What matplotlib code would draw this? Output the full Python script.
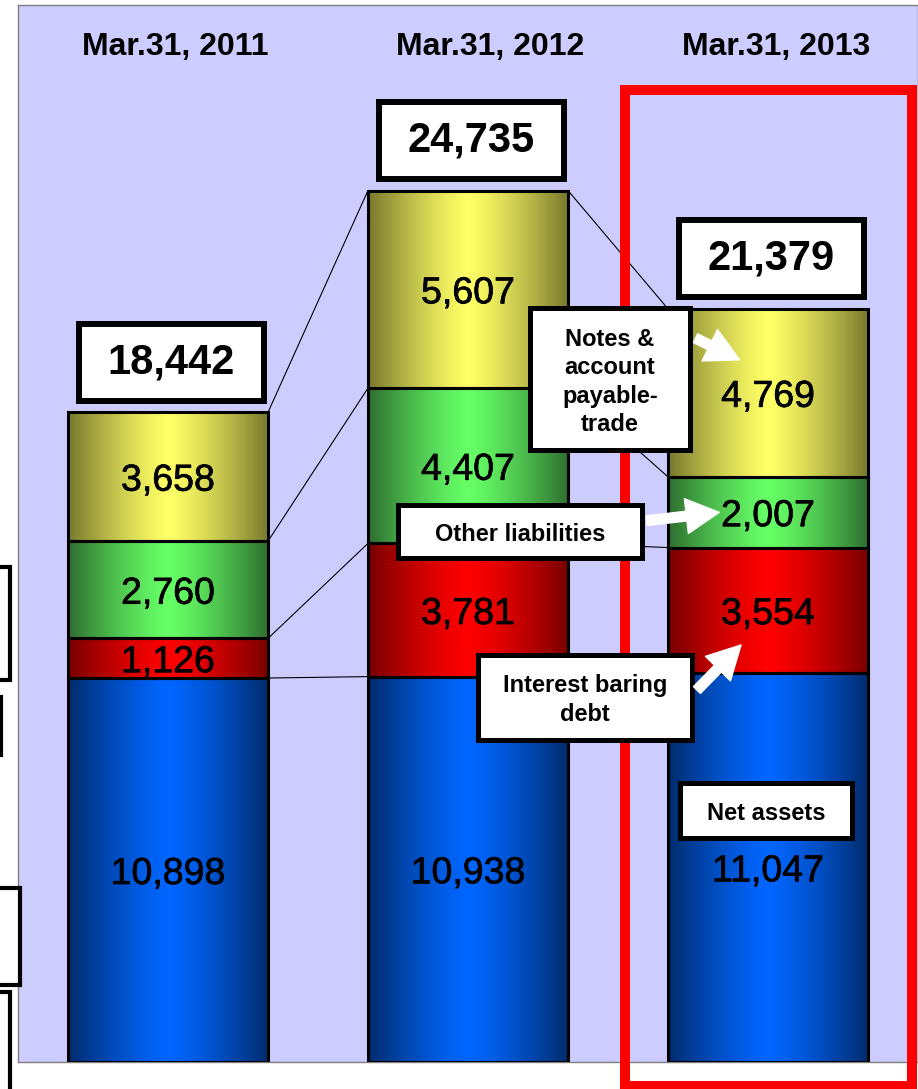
import matplotlib
matplotlib.use("Agg")
import matplotlib.pyplot as plt
import matplotlib.patheffects as pe
import numpy as np
from matplotlib.patches import Rectangle, FancyArrowPatch
from matplotlib.colors import to_rgb

# dados (milhoes de ienes)
dates = ["Mar.31, 2011", "Mar.31, 2012", "Mar.31, 2013"]
net_assets = [10898, 10938, 11047]
interest_debt = [1126, 3781, 3554]
other_liab = [2760, 4407, 2007]
notes_payable = [3658, 5607, 4769]
totals = [18442, 24735, 21379]

layers = [net_assets, interest_debt, other_liab, notes_payable]
edge_cols = ["#002c6c", "#780000", "#2e6e30", "#78782e"]
mid_cols = ["#0066ff", "#ff0000", "#66ff66", "#ffff66"]

W, H = 918, 1089
plt.rcParams["font.family"] = ["Liberation Sans", "DejaVu Sans"]
fig = plt.figure(figsize=(W / 100, H / 100), dpi=100)
ax = fig.add_axes([18 / W, 27 / H, 900 / W, 1057 / H])
ax.set_facecolor("#ccccff")


def px(x, y):
    # pixel da imagem (origem em cima) -> fracao da figura
    return x / W, 1 - y / H


def fbox(cx, cy, bw, bh, lw=3.6, z=6):
    r = Rectangle(px(cx - bw / 2, cy + bh / 2), bw / W, bh / H, transform=fig.transFigure,
                  facecolor="white", edgecolor="black", linewidth=lw, zorder=z)
    fig.add_artist(r)


def seta(x0, y0, x1, y1):
    a = FancyArrowPatch(px(x0, y0), px(x1, y1), transform=fig.transFigure,
                        arrowstyle="simple,head_length=0.85,head_width=0.9,tail_width=0.25",
                        mutation_scale=28, color="white", zorder=8)
    fig.add_artist(a)


x = np.arange(len(dates))
w = 0.667
t = np.linspace(-1, 1, 200)
f = 1 - np.abs(t) ** 1.3
grosso = [pe.withStroke(linewidth=0.5, foreground="black")]

bottoms = np.zeros(len(dates))
tops = []
for k, vals in enumerate(layers):
    e = np.array(to_rgb(edge_cols[k]))
    m = np.array(to_rgb(mid_cols[k]))
    grad = (e + (m - e) * f[:, None])[None, :, :]
    bars = ax.bar(x, vals, width=w, bottom=bottoms, facecolor="none",
                  edgecolor="black", linewidth=2.2, zorder=3)
    for b, v in zip(bars, vals):
        x0, y0 = b.get_x(), b.get_y()
        ax.imshow(grad, extent=[x0, x0 + w, y0, y0 + v], aspect="auto",
                  interpolation="bilinear", zorder=2)
        ax.text(x0 + w / 2, y0 + v / 2, f"{v:,}", ha="center", va="center_baseline",
                fontsize=27, color="black", zorder=4, path_effects=grosso)
    bottoms = bottoms + np.array(vals)
    tops.append(bottoms.copy())

# linhas ligando as barras
for lvl in tops:
    for i in range(len(dates) - 1):
        ax.plot([x[i] + w / 2, x[i + 1] - w / 2], [lvl[i], lvl[i + 1]],
                color="black", lw=0.8, zorder=1.5)

ax.set_xlim(-0.5, 2.5)
ax.set_ylim(0, 30000)
ax.set_xticks([])
ax.set_yticks([])
for s in ax.spines.values():
    s.set_color("#808080")
    s.set_linewidth(1)

label_dx = [0.025, 0.075, 0.027]
for i, d in enumerate(dates):
    ax.text(x[i] + label_dx[i], 28810, d, ha="center", va="center",
            fontsize=23, fontweight="bold", zorder=4)

# caixas com os totais
for i, tot in enumerate(totals):
    dx, dy = ax.transData.transform((x[i], tot))
    cx, cy = dx + 3, H - dy - 50
    fbox(cx, cy, 185, 77, lw=4.3)
    fig.text(*px(cx, cy), f"{tot:,}", ha="center", va="center", fontsize=30,
             fontweight="bold", zorder=7)

# moldura vermelha
fr = Rectangle(px(624.5, 1086), 287 / W, 996 / H, transform=fig.transFigure,
               facecolor="none", edgecolor="#ff0000", linewidth=7.2, zorder=5)
fig.add_artist(fr)

# caixas explicativas
notas = [
    ("Notes &\naccount\npayable-\ntrade", 610, 379, 160, 142),
    ("Other liabilities", 520, 531, 244, 53),
    ("Interest baring\ndebt", 585, 697, 214, 85),
    ("Net assets", 766, 810, 172, 55),
]
for txt, cx, cy, bw, bh in notas:
    fbox(cx, cy, bw, bh)
    fig.text(*px(cx, cy + 3), txt, ha="center", va="center", fontsize=17,
             fontweight="bold", linespacing=1.28, zorder=7)

seta(693, 337, 742, 361)
seta(644, 521, 722, 512)
seta(695, 692, 743, 643)

# caixas cortadas na borda esquerda
for cy, right, bh in [(623, 10, 113), (726, 1, 58), (936, 20, 97), (1042, 10, 100)]:
    fbox(right - 30, cy, 60, bh, lw=3, z=6)

fig.savefig("out.png", dpi=100)
